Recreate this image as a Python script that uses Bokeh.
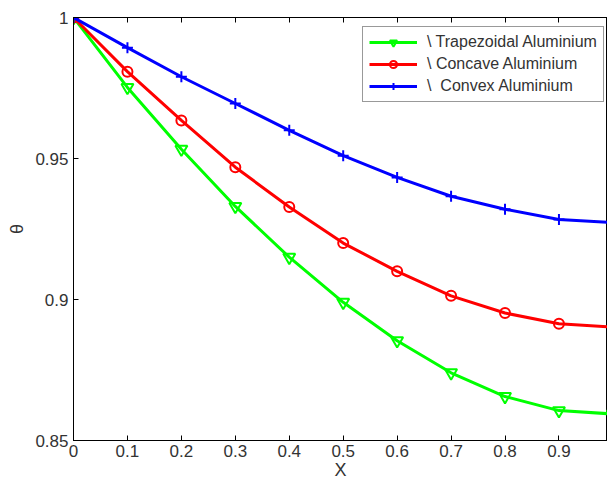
from bokeh.plotting import figure
from bokeh.models import FixedTicker, Range1d, LinearAxis, Legend, LegendItem
from bokeh.embed import file_html
from bokeh.resources import INLINE

x = [0, 0.1, 0.2, 0.3, 0.4, 0.5, 0.6, 0.7, 0.8, 0.9, 1.0]
trapezoidal = [1.0, 0.9752, 0.9533, 0.9330, 0.9150, 0.8990, 0.8854, 0.8740, 0.8656, 0.8606, 0.8594]
concave = [1.0, 0.9808, 0.9635, 0.9469, 0.9328, 0.9200, 0.9100, 0.9013, 0.8952, 0.8914, 0.8902]
convex = [1.0, 0.9893, 0.9790, 0.9695, 0.9600, 0.9510, 0.9433, 0.9366, 0.9320, 0.9284, 0.9273]
labels = ["\\ Trapezoidal Aluminium", "\\ Concave Aluminium", "\\  Convex Aluminium"]
x_ticks = [0, 0.1, 0.2, 0.3, 0.4, 0.5, 0.6, 0.7, 0.8, 0.9]
x_tick_labels = ["0", "0.1", "0.2", "0.3", "0.4", "0.5", "0.6", "0.7", "0.8", "0.9"]
y_ticks = [0.85, 0.9, 0.95, 1.0]
y_tick_labels = ["0.85", "0.9", "0.95", "1"]

FONT = "Liberation Sans"
TXT = "#333333"

p = figure(width=607, height=483, output_backend="svg", toolbar_location=None,
           x_range=Range1d(0, 0.99), y_range=Range1d(0.85, 1.0),
           min_border_left=73, min_border_right=0, min_border_top=17, min_border_bottom=43)
p.xgrid.visible = False
p.ygrid.visible = False
p.outline_line_color = "black"
p.background_fill_color = "white"
p.border_fill_color = "white"

for ax in (p.xaxis[0], p.yaxis[0]):
    ax.major_tick_in = 5
    ax.major_tick_out = 0
    ax.minor_tick_in = 0
    ax.minor_tick_out = 0
    ax.major_label_text_font = FONT
    ax.major_label_text_font_size = "17px"
    ax.major_label_text_color = TXT
    ax.axis_label_text_font = FONT
    ax.axis_label_text_font_size = "18px"
    ax.axis_label_text_font_style = "normal"
    ax.axis_label_text_color = TXT
    ax.axis_line_color = "black"

p.xaxis[0].ticker = FixedTicker(ticks=x_ticks)
p.xaxis[0].major_label_overrides = {t: l for t, l in zip(x_ticks, x_tick_labels)}
p.xaxis[0].axis_label = "X"
p.xaxis[0].axis_label_standoff = 0
p.xaxis[0].major_label_standoff = 4
p.yaxis[0].ticker = FixedTicker(ticks=y_ticks)
p.yaxis[0].major_label_overrides = {t: l for t, l in zip(y_ticks, y_tick_labels)}
p.yaxis[0].axis_label = "θ"
p.yaxis[0].major_label_standoff = 5

top = LinearAxis(ticker=FixedTicker(ticks=x_ticks), major_tick_in=5, major_tick_out=0,
                 minor_tick_in=0, minor_tick_out=0, major_label_standoff=0,
                 major_label_overrides={t: "" for t in x_ticks})
p.add_layout(top, "above")

series = [
    (trapezoidal, "#00FF00", "inverted_triangle", 12),
    (concave, "#FF0000", "circle", 10),
    (convex, "#0000FF", "cross", 11),
]
items = []
for (ys, color, marker, size), lab in zip(series, labels):
    l = p.line(x, ys, line_color=color, line_width=3)
    s = p.scatter(x, ys, marker=marker, size=size, line_color=color, line_width=2,
                  fill_color=None)
    items.append(LegendItem(label=lab, renderers=[l, s]))

legend = Legend(items=items, location=(289, 338))
legend.label_text_font = FONT
legend.label_text_font_size = "16px"
legend.label_text_color = TXT
legend.border_line_color = "#333333"
legend.border_line_width = 1
legend.glyph_width = 48
legend.glyph_height = 18
legend.spacing = 4
legend.padding = 6
legend.margin = 0
legend.label_standoff = 10
legend.background_fill_alpha = 1.0
p.add_layout(legend, "center")

open("out.html", "w").write(file_html(p, INLINE))
